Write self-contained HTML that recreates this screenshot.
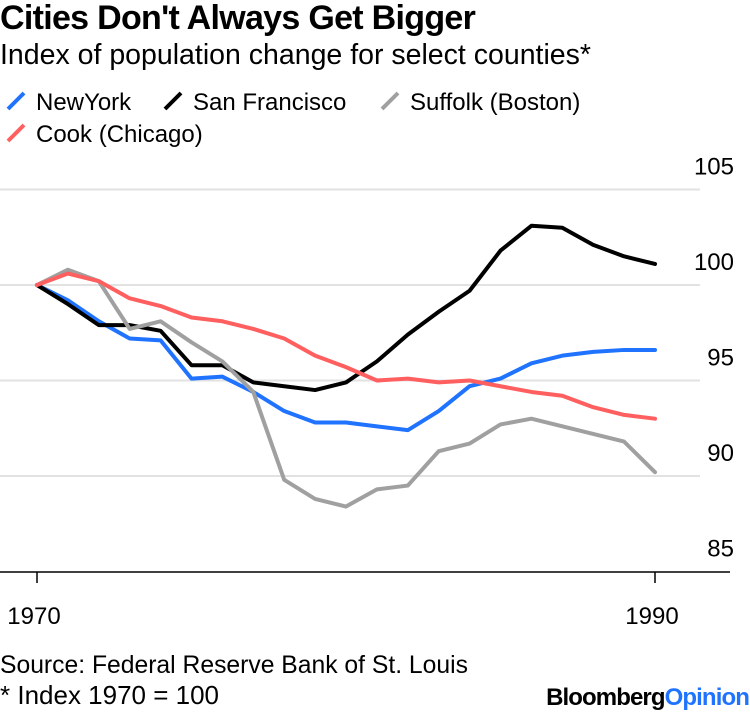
<!DOCTYPE html>
<html><head><meta charset="utf-8">
<style>
body{margin:0;background:#fff;font-family:"Liberation Sans",sans-serif;}
#wrap{position:relative;width:750px;height:714px;overflow:hidden;}
.t{position:absolute;white-space:nowrap;color:#000;}
</style></head>
<body>
<div id="wrap">
<div class="t" style="left:0;top:-1px;font-size:34px;font-weight:bold;letter-spacing:-0.7px;">Cities Don't Always Get Bigger</div>
<div class="t" style="left:0;top:39px;font-size:28.5px;">Index of population change for select counties*</div>
<svg id="chart" width="750" height="714" style="position:absolute;left:0;top:0"></svg>
<div class="t" style="left:0;top:652px;font-size:24.7px;">Source: Federal Reserve Bank of St. Louis</div>
<div class="t" style="left:0;top:680px;font-size:26px;">* Index 1970 = 100</div>
<div class="t" style="right:1px;top:684px;font-size:24px;font-weight:bold;letter-spacing:-0.9px;">Bloomberg<span style="color:#1f73ff">Opinion</span></div>
</div>
<script>
const years=[1970,1971,1972,1973,1974,1975,1976,1977,1978,1979,1980,1981,1982,1983,1984,1985,1986,1987,1988,1989,1990];
const newYork=[100,99.2,98.1,97.2,97.1,95.1,95.2,94.4,93.4,92.8,92.8,92.6,92.4,93.4,94.7,95.1,95.9,96.3,96.5,96.6,96.6];
const sanFrancisco=[100,99.0,97.9,97.9,97.6,95.8,95.8,94.9,94.7,94.5,94.9,96.0,97.4,98.6,99.7,101.8,103.1,103.0,102.1,101.5,101.1];
const suffolk=[100,100.8,100.2,97.7,98.1,97.0,96.0,94.4,89.8,88.8,88.4,89.3,89.5,91.3,91.7,92.7,93.0,92.6,92.2,91.8,90.2];
const cook=[100,100.6,100.2,99.3,98.9,98.3,98.1,97.7,97.2,96.3,95.7,95.0,95.1,94.9,95.0,94.7,94.4,94.2,93.6,93.2,93.0];
const yTicks=[85,90,95,100,105];
const xTicks=[1970,1990];
const seriesNames=["NewYork","San Francisco","Suffolk (Boston)","Cook (Chicago)"];
const seriesColors=["#1f73ff","#000000","#a0a0a0","#ff5f5f"];
const seriesData=[newYork,sanFrancisco,suffolk,cook];

const NS="http://www.w3.org/2000/svg";
const svg=document.getElementById('chart');
const x=v=>37+(v-1970)*(655-37)/20;
const y=v=>285-(v-100)*19.1;
function mk(tag,attrs){const e=document.createElementNS(NS,tag);for(const k in attrs)e.setAttribute(k,attrs[k]);svg.appendChild(e);return e;}

yTicks.forEach(t=>{
  if(t>85){
    const g=mk('line',{x1:0,x2:700,y1:y(t),y2:y(t),stroke:'#e2e2e2','stroke-width':2});
    
    
  }
  const lb=mk('text',{x:734,y:y(t)-15,'text-anchor':'end','font-size':24,'font-family':'Liberation Sans, sans-serif'});
  lb.textContent=t;
  
  
});
const base=mk('line',{x1:0,x2:730,y1:572,y2:572,stroke:'#000','stroke-width':1.5});


xTicks.forEach(t=>{
  const tk=mk('line',{x1:x(t),x2:x(t),y1:572,y2:583,stroke:'#000','stroke-width':1.5});
  
  
  const lb=mk('text',{x:x(t)-3,y:624,'text-anchor':'middle','font-size':24,'font-family':'Liberation Sans, sans-serif'});
  lb.textContent=t;
  
  
});
seriesData.forEach((d,i)=>{
  const p=mk('polyline',{points:d.map((v,j)=>x(years[j])+','+y(v)).join(' '),fill:'none',stroke:seriesColors[i],'stroke-width':4,'stroke-linejoin':'round','stroke-linecap':'round'});
  
  
});
const legPos=[[8,101],[165,101],[382,101],[8,133]];
seriesNames.forEach((n,i)=>{
  const [lx,ly]=legPos[i];
  const m=mk('line',{x1:lx,y1:ly+8,x2:lx+16,y2:ly-8,stroke:seriesColors[i],'stroke-width':4});
  
  
  const t=mk('text',{x:lx+28,y:ly+9,'font-size':24,'font-family':'Liberation Sans, sans-serif'});
  t.textContent=n;
  
  
});
</script>
</body></html>
